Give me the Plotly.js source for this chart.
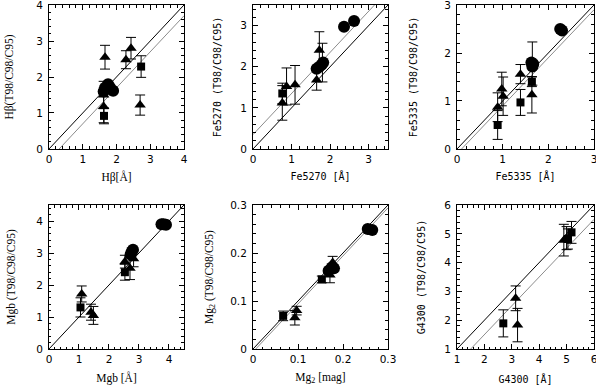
<!DOCTYPE html>
<html>
<head>
<meta charset="utf-8">
<script src="https://cdn.plot.ly/plotly-3.0.1.min.js"></script>
<style>html,body{margin:0;padding:0;background:#fff}</style>
</head>
<body>
<div id="graph" style="width:596px;height:385px"></div>
<script>
// one entry per panel: Hb, Fe5270, Fe5335, Mgb, Mg2, G4300
const xTitles = ['H&#946;[Å]', 'Fe5270 [Å]', 'Fe5335 [Å]', 'Mgb [Å]', 'Mg<sub>2</sub> [mag]', 'G4300 [Å]']
const yTitles = ['H&#946;(T98/C98/C95)', 'Fe5270 (T98/C98/C95)', 'Fe5335 (T98/C98/C95)',
  'Mgb (T98/C98/C95)', 'Mg<sub>2</sub> (T98/C98/C95)', 'G4300 (T98/C98/C95)']
const axisRanges = [[0, 4], [0, 3.5], [0, 3], [0, 4.5], [0, 0.3], [1, 6]]
const majorStep = [1, 1, 1, 1, 0.1, 1]
const minorStep = [0.2, 0.2, 0.2, 0.2, 0.02, 0.2]
// offset of the grey line from the one-to-one line (null = none)
const greyOffset = [-0.3, 0.35, -0.1, null, -0.006, -0.5]

const circX = [
  [1.62, 1.66, 1.75, 1.8, 1.9],
  [1.65, 1.72, 1.78, 1.82, 2.36, 2.62],
  [1.63, 1.65, 1.67, 2.26, 2.3],
  [2.72, 2.76, 2.8, 3.75, 3.82, 3.9],
  [0.168, 0.175, 0.18, 0.255, 0.265],
  []
]
const circY = [
  [1.6, 1.7, 1.8, 1.72, 1.62],
  [1.95, 2.0, 2.05, 2.1, 2.97, 3.11],
  [1.8, 1.72, 1.77, 2.5, 2.47],
  [2.95, 3.05, 3.1, 3.9, 3.9, 3.88],
  [0.163, 0.17, 0.168, 0.25, 0.248],
  []
]
const triX = [
  [1.66, 2.28, 2.43, 2.7, 1.62, 1.62],
  [0.76, 0.87, 1.09, 1.65, 1.72, 1.8],
  [0.89, 0.98, 1.01, 1.39, 1.64, 1.65],
  [1.09, 1.4, 1.48, 2.53, 2.7, 2.82],
  [0.093, 0.097, 0.171, 0.177],
  [3.14, 3.21, 4.9, 5.0]
]
const triY = [
  [2.55, 2.48, 2.8, 1.22, 1.18, 1.5],
  [1.12, 1.52, 1.56, 1.68, 2.4, 2.1],
  [0.87, 1.25, 1.1, 1.56, 1.13, 1.78],
  [1.72, 1.15, 1.05, 2.73, 2.52, 2.82],
  [0.065, 0.08, 0.154, 0.18],
  [2.76, 1.83, 4.78, 4.85]
]
const triErr = [
  [0.33, 0.25, 0.3, 0.28, 0.45, 0.38],
  [0.42, 0.45, 0.47, 0.25, 0.45, 0.47],
  [0.3, 0.35, 0.4, 0.2, 0.38, 0.45],
  [0.25, 0.25, 0.28, 0.2, 0.35, 0.25],
  [0.015, 0.009, 0.016, 0.013],
  [0.43, 0.58, 0.55, 0.4]
]
const sqX = [
  [1.63, 2.73],
  [0.76],
  [0.89, 1.39, 1.64],
  [1.05, 2.53],
  [0.067, 0.153],
  [2.69, 5.05, 5.18]
]
const sqY = [
  [0.92, 2.29],
  [1.35],
  [0.5, 0.97, 1.4],
  [1.3, 2.4],
  [0.069, 0.145],
  [1.89, 4.82, 5.05]
]
const sqErr = [
  [0.22, 0.3],
  [0.25],
  [0.3, 0.27, 0.1],
  [0.3, 0.25],
  [0.01, 0.007],
  [0.47, 0.35, 0.38]
]

const xDomains = [[0.0822, 0.3087], [0.4245, 0.651], [0.7668, 0.9966]]
const yDomains = [[0.613, 0.987], [0.0935, 0.4675]]
const serifPanels = [0, 3, 4]
const yStandoff = [20, 16, 24, 18, 14, 16]
const xStandoff = [9, 9, 9, 11, 12, 12]

const data = []
const layout = {
  width: 596,
  height: 385,
  margin: {l: 0, r: 0, t: 0, b: 0},
  showlegend: false,
  paper_bgcolor: 'white',
  plot_bgcolor: 'white'
}

for (let i = 0; i < 6; i++) {
  const n = i === 0 ? '' : String(i + 1)
  const xa = 'x' + n
  const ya = 'y' + n
  const r = axisRanges[i]
  const errStyle = {color: 'black', thickness: 1, width: 5}

  // one-to-one line and the grey offset line
  data.push({x: r, y: r, xaxis: xa, yaxis: ya, mode: 'lines',
    line: {color: 'black', width: 1}, hoverinfo: 'skip'})
  if (greyOffset[i] !== null) {
    data.push({x: r, y: r.map(v => v + greyOffset[i]), xaxis: xa, yaxis: ya, mode: 'lines',
      line: {color: '#8c8c8c', width: 1}, hoverinfo: 'skip'})
  }

  data.push({x: triX[i], y: triY[i], xaxis: xa, yaxis: ya, mode: 'markers',
    marker: {symbol: 'triangle-up', size: 10, color: 'black'},
    error_y: {type: 'data', array: triErr[i], visible: true, ...errStyle}})
  data.push({x: sqX[i], y: sqY[i], xaxis: xa, yaxis: ya, mode: 'markers',
    marker: {symbol: 'square', size: 8, color: 'black'},
    error_y: {type: 'data', array: sqErr[i], visible: true, ...errStyle}})
  data.push({x: circX[i], y: circY[i], xaxis: xa, yaxis: ya, mode: 'markers',
    marker: {symbol: 'circle', size: 12, color: 'black'}})

  const family = serifPanels.includes(i) ? 'Liberation Serif' : 'DejaVu Sans Mono'
  const titleSize = serifPanels.includes(i) ? 11.5 : 10
  const common = {
    range: r,
    dtick: majorStep[i],
    tick0: r[0],
    ticks: 'inside',
    ticklen: 5,
    tickwidth: 1,
    tickcolor: 'black',
    minor: {dtick: minorStep[i], ticks: 'inside', ticklen: 2.5, tickcolor: 'black'},
    showline: true,
    linecolor: 'black',
    linewidth: 1,
    mirror: 'ticks',
    showgrid: false,
    zeroline: false,
    fixedrange: true,
    ticklabeloverflow: 'allow',
    tickfont: {family: 'DejaVu Sans', size: 10.5, color: 'black'}
  }
  layout['xaxis' + n] = {
    ...common,
    anchor: ya,
    domain: xDomains[i % 3],
    title: {text: xTitles[i], font: {family: family, size: titleSize, color: 'black'}, standoff: xStandoff[i]}
  }
  layout['yaxis' + n] = {
    ...common,
    anchor: xa,
    domain: yDomains[Math.floor(i / 3)],
    ticklabelstandoff: 3,
    title: {text: yTitles[i], font: {family: family, size: titleSize, color: 'black'}, standoff: yStandoff[i]}
  }
}

Plotly.newPlot('graph', data, layout, {displayModeBar: false, staticPlot: true})
</script>
</body>
</html>
